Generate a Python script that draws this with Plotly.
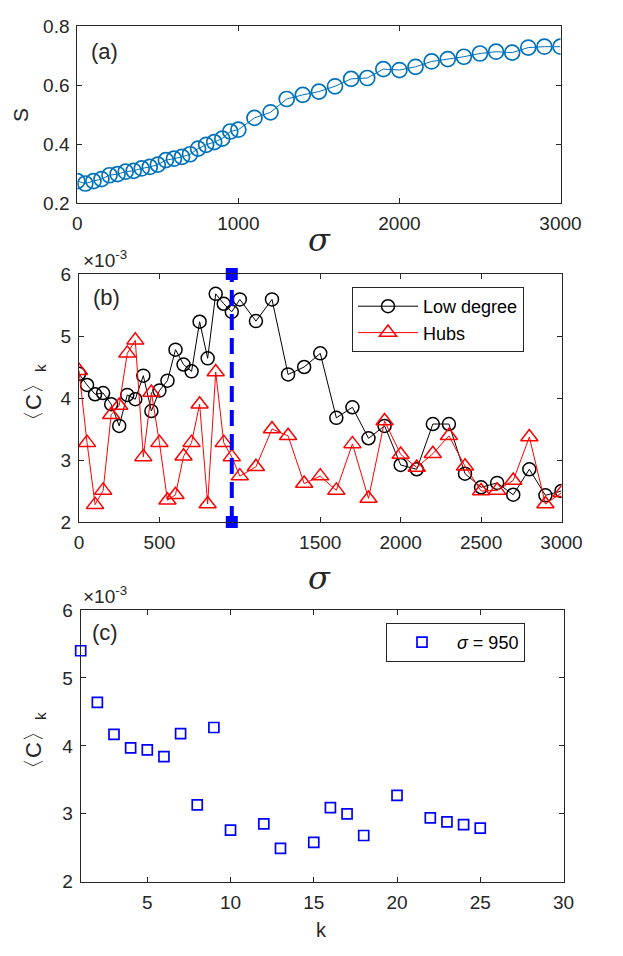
import plotly.graph_objects as go

# panel (a): S vs sigma
sigma_a = [0, 50, 100, 150, 200, 250, 300, 350, 400, 450, 500, 550, 600, 650, 700,
           750, 800, 850, 900, 950, 1000, 1100, 1200, 1300, 1400, 1500, 1600, 1700,
           1800, 1900, 2000, 2100, 2200, 2300, 2400, 2500, 2600, 2700, 2800, 2900, 3000]
S_vals = [0.275, 0.267, 0.275, 0.282, 0.295, 0.299, 0.307, 0.310, 0.318, 0.323, 0.331,
          0.346, 0.351, 0.357, 0.366, 0.385, 0.398, 0.407, 0.419, 0.443, 0.449, 0.489,
          0.508, 0.553, 0.567, 0.578, 0.596, 0.621, 0.624, 0.654, 0.651, 0.662, 0.680,
          0.688, 0.696, 0.707, 0.713, 0.710, 0.727, 0.730, 0.730]

# panel (b): <C>_k (x1e-3) vs sigma
sigma_b = sigma_a
low_degree = [4.39, 4.21, 4.06, 4.08, 3.90, 3.55, 4.05, 3.98, 4.36, 3.79, 4.12, 4.28,
              4.78, 4.54, 4.43, 5.23, 4.64, 5.68, 5.52, 5.39, 5.59, 5.24, 5.59, 4.38,
              4.50, 4.72, 3.68, 3.85, 3.35, 3.55, 2.92, 2.85, 3.58, 3.58, 2.78, 2.56,
              2.63, 2.44, 2.85, 2.43, 2.50]
hubs = [4.44, 3.28, 2.28, 2.51, 3.73, 3.88, 4.72, 4.93, 3.05, 4.09, 3.28, 2.35, 2.44,
        3.06, 3.28, 3.90, 2.29, 4.42, 3.28, 3.05, 2.74, 2.89, 3.50, 3.39, 2.62, 2.74,
        2.51, 3.26, 2.38, 3.63, 3.09, 2.88, 3.10, 3.39, 2.90, 2.50, 2.51, 2.67, 3.37,
        2.29, 2.47]
sigma_mark = 950
mark_range = [2, 6]

# panel (c): <C>_k (x1e-3) vs k at sigma = 950
k_vals = [1, 2, 3, 4, 5, 6, 7, 8, 9, 10, 12, 13, 15, 16, 17, 18, 20, 22, 23, 24, 25]
C_k = [5.40, 4.64, 4.17, 3.97, 3.94, 3.84, 4.18, 3.13, 4.27, 2.76, 2.85, 2.49, 2.58,
       3.09, 3.00, 2.68, 3.27, 2.94, 2.88, 2.84, 2.79]

W, H = 623, 956
AX = "#262626"
FONT = "Liberation Sans, Arial, sans-serif"


def px_x(p):
    return p / W


def px_y(p):
    return 1 - p / H


fig = go.Figure()

fig.add_trace(go.Scatter(
    x=sigma_a, y=S_vals, mode="lines+markers", xaxis="x", yaxis="y", showlegend=False,
    line=dict(color="#0072BD", width=1),
    marker=dict(symbol="circle-open", size=15, color="#0072BD", line=dict(width=1.7)),
))

fig.add_trace(go.Scatter(
    x=sigma_b, y=low_degree, mode="lines+markers", xaxis="x2", yaxis="y2",
    name="Low degree", legend="legend",
    line=dict(color="black", width=1),
    marker=dict(symbol="circle-open", size=13, color="black", line=dict(width=1.5)),
))
fig.add_trace(go.Scatter(
    x=sigma_b, y=hubs, mode="lines+markers", xaxis="x2", yaxis="y2",
    name="Hubs", legend="legend",
    line=dict(color="#FF0000", width=1),
    marker=dict(symbol="triangle-up-open", size=15, color="#FF0000", line=dict(width=1.5)),
))
fig.add_trace(go.Scatter(
    x=[sigma_mark, sigma_mark], y=mark_range, mode="lines+markers", xaxis="x2", yaxis="y2",
    showlegend=False,
    line=dict(color="#0000FF", width=4, dash="16px,8px"),
    marker=dict(symbol="square", size=12, color="#0000FF"),
    cliponaxis=False,
))

fig.add_trace(go.Scatter(
    x=k_vals, y=C_k, mode="markers", xaxis="x3", yaxis="y3",
    name="<i>σ</i> = 950", legend="legend2",
    marker=dict(symbol="square-open", size=10, color="#0000FF", line=dict(width=1.7)),
    cliponaxis=False,
))

axis_common = dict(
    showline=True, linecolor=AX, linewidth=1, mirror="ticks", ticks="inside",
    ticklen=5, tickcolor=AX, tickwidth=1, showgrid=False, zeroline=False,
    automargin=False, ticklabelstandoff=3,
    tickfont=dict(family=FONT, size=19, color=AX),
)

fig.update_layout(
    template="none",
    width=W, height=H,
    margin=dict(l=0, r=0, t=0, b=0, pad=0, autoexpand=False),
    paper_bgcolor="white", plot_bgcolor="white",
    font=dict(family=FONT, color=AX),
    xaxis=dict(axis_common, domain=[px_x(77.3), px_x(560.5)], range=[0, 3000],
               tickvals=[0, 1000, 2000, 3000], anchor="y"),
    yaxis=dict(axis_common, domain=[px_y(203.3), px_y(26)], range=[0.2, 0.8],
               tickvals=[0.2, 0.4, 0.6, 0.8], tickformat=".1f", anchor="x"),
    xaxis2=dict(axis_common, domain=[px_x(79), px_x(561.5)], range=[0, 3000],
                tickvals=[0, 500, 1500, 2000, 2500, 3000], anchor="y2"),
    yaxis2=dict(axis_common, domain=[px_y(522), px_y(274)], range=[2, 6],
                tickvals=[2, 3, 4, 5, 6], anchor="x2"),
    xaxis3=dict(axis_common, domain=[px_x(80.7), px_x(563.5)], range=[1, 30],
                tickvals=[5, 10, 15, 20, 25, 30], anchor="y3"),
    yaxis3=dict(axis_common, domain=[px_y(881.7), px_y(610)], range=[2, 6],
                tickvals=[2, 3, 4, 5, 6], anchor="x3"),
    legend=dict(x=px_x(352), y=px_y(287), xanchor="left", yanchor="top",
                bgcolor="white", bordercolor=AX, borderwidth=1,
                font=dict(family=FONT, size=18, color="black"), itemwidth=60,
                tracegroupgap=0),
    legend2=dict(x=px_x(386), y=px_y(623), xanchor="left", yanchor="top",
                 bgcolor="white", bordercolor=AX, borderwidth=1,
                 font=dict(family=FONT, size=18, color="black"), itemwidth=60),
)

annotations = [
    dict(text="(a)", x=px_x(89), y=px_y(52), xanchor="left", yanchor="middle", size=22),
    dict(text="(b)", x=px_x(91), y=px_y(297), xanchor="left", yanchor="middle", size=22),
    dict(text="(c)", x=px_x(90), y=px_y(632), xanchor="left", yanchor="middle", size=22),
    dict(text="×10<sup>-3</sup>", x=px_x(81), y=px_y(273), xanchor="left", yanchor="bottom", size=19),
    dict(text="×10<sup>-3</sup>", x=px_x(81), y=px_y(609), xanchor="left", yanchor="bottom", size=19),
    dict(text="k", x=px_x(321), y=px_y(930), xanchor="center", yanchor="middle", size=20),
]
for a in annotations:
    fig.add_annotation(text=a["text"], x=a["x"], y=a["y"], xref="paper", yref="paper",
                       xanchor=a["xanchor"], yanchor=a["yanchor"], showarrow=False,
                       font=dict(family=FONT, size=a["size"], color=AX))

for yy in [240, 578]:
    fig.add_annotation(text="<i>σ</i>", x=px_x(319), y=px_y(yy), xref="paper", yref="paper",
                       showarrow=False, xanchor="center", yanchor="middle",
                       font=dict(family="DejaVu Serif, serif", size=32, color=AX))

fig.add_annotation(text="S", x=px_x(20), y=px_y(115), xref="paper", yref="paper",
                   showarrow=False, textangle=-90, xanchor="center", yanchor="middle",
                   font=dict(family=FONT, size=21, color=AX))
for yy in [398, 746]:
    fig.add_annotation(text="〈C〉<sub>k</sub>", x=px_x(35), y=px_y(yy), xref="paper", yref="paper",
                       showarrow=False, textangle=-90, xanchor="center", yanchor="middle",
                       font=dict(family=FONT, size=22, color=AX))

fig.write_html("out.html", config={"displayModeBar": False},
               post_script="document.body.style.margin='0';document.body.style.overflow='hidden';")
